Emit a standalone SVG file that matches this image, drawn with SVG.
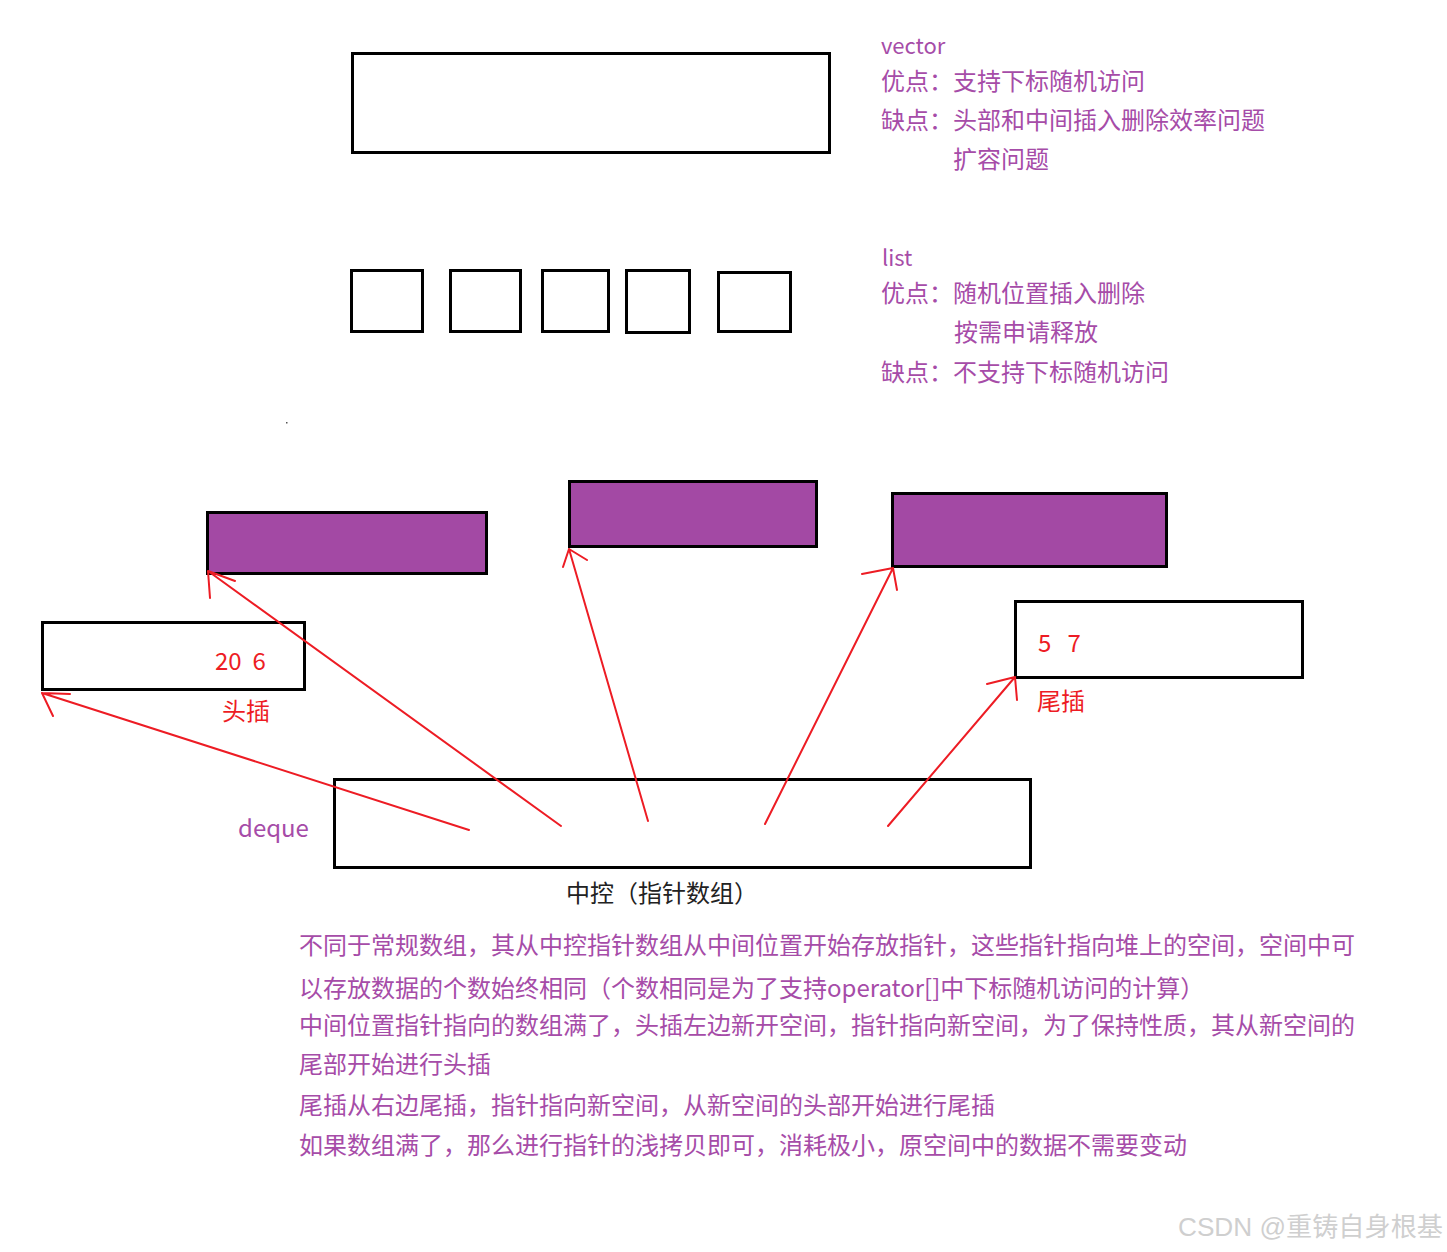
<svg xmlns="http://www.w3.org/2000/svg" width="1447" height="1252" viewBox="0 0 1447 1252">
<style>
.box{fill:#fff;stroke:#000;stroke-width:3}
.pbox{fill:#A349A4;stroke:#000;stroke-width:3}
.t{font-family:"Noto Sans CJK SC","Noto Sans",sans-serif;font-size:24px}
.pu{fill:#A64CA8}
.rd{fill:#ED1C24}
.bk{fill:#222}
.pre{white-space:pre}
.arr{fill:none;stroke:#ED1C24;stroke-width:2;stroke-linecap:round;stroke-linejoin:round}
</style>
<rect width="1447" height="1252" fill="#fff"/>
<g id="vector">
<rect class="box" x="352.5" y="53.5" width="477" height="99"/>
</g>
<g id="vector-notes" class="t pu">
<text x="881" y="54" font-size="22">vector</text>
<text x="881" y="90">优点：支持下标随机访问</text>
<text x="881" y="129">缺点：头部和中间插入删除效率问题</text>
<text x="953" y="168">扩容问题</text>
</g>
<g id="list">
<rect class="box" x="351.5" y="270.5" width="71" height="61"/>
<rect class="box" x="450.5" y="270.5" width="70" height="61"/>
<rect class="box" x="542.5" y="270.5" width="66" height="61"/>
<rect class="box" x="626.5" y="270.5" width="63" height="62"/>
<rect class="box" x="718.5" y="272.5" width="72" height="59"/>
</g>
<g id="list-notes" class="t pu">
<text x="882" y="266" font-size="22">list</text>
<text x="881" y="302">优点：随机位置插入删除</text>
<text x="954" y="341">按需申请释放</text>
<text x="881" y="381">缺点：不支持下标随机访问</text>
</g>
<rect x="286" y="422" width="1.5" height="1.5" fill="#555"/>
<g id="buf1"><rect class="pbox" x="207.5" y="512.5" width="279" height="61"/></g>
<g id="buf2"><rect class="pbox" x="569.5" y="481.5" width="247" height="65"/></g>
<g id="buf3"><rect class="pbox" x="892.5" y="493.5" width="274" height="73"/></g>
<g id="head-buf">
<rect class="box" x="42.5" y="622.5" width="262" height="67"/>
<text class="t rd pre" x="215" y="670" font-size="22" xml:space="preserve">20  6</text>
</g>
<text class="t rd" x="222" y="720">头插</text>
<g id="tail-buf">
<rect class="box" x="1015.5" y="601.5" width="287" height="76"/>
<text class="t rd pre" x="1038" y="652" font-size="22" xml:space="preserve">5   7</text>
</g>
<text class="t rd" x="1037" y="710">尾插</text>
<g id="map">
<rect class="box" x="334.5" y="779.5" width="696" height="88"/>
</g>
<text class="t pu" x="238" y="837" font-size="21">deque</text>
<text class="t bk" x="566" y="902" font-size="22.5">中控（指针数组）</text>
<g id="connectors">
<path class="arr" d="M469 830 L42 693 M42 693 L70 694 M42 693 L53 716"/>
<path class="arr" d="M561 826 L208 571 M208 571 L235 581 M208 571 L210 598"/>
<path class="arr" d="M648 821 L569 549 M569 549 L587 560 M569 549 L563 567"/>
<path class="arr" d="M765 824 L893 568 M893 568 L862 574 M893 568 L897 590"/>
<path class="arr" d="M888 826 L1015 677 M1015 677 L987 684 M1015 677 L1017 700"/>
</g>
<g id="explanation" class="t pu">
<text x="299" y="954">不同于常规数组，其从中控指针数组从中间位置开始存放指针，这些指针指向堆上的空间，空间中可</text>
<text x="299" y="997">以存放数据的个数始终相同（个数相同是为了支持operator[]中下标随机访问的计算）</text>
<text x="299" y="1034">中间位置指针指向的数组满了，头插左边新开空间，指针指向新空间，为了保持性质，其从新空间的</text>
<text x="299" y="1073">尾部开始进行头插</text>
<text x="299" y="1114">尾插从右边尾插，指针指向新空间，从新空间的头部开始进行尾插</text>
<text x="299" y="1154">如果数组满了，那么进行指针的浅拷贝即可，消耗极小，原空间中的数据不需要变动</text>
</g>
<text x="1178" y="1236" font-family="'Liberation Sans','Noto Sans CJK SC',sans-serif" font-size="26" fill="#cfcfcf" textLength="265" lengthAdjust="spacingAndGlyphs">CSDN @重铸自身根基</text>
</svg>
